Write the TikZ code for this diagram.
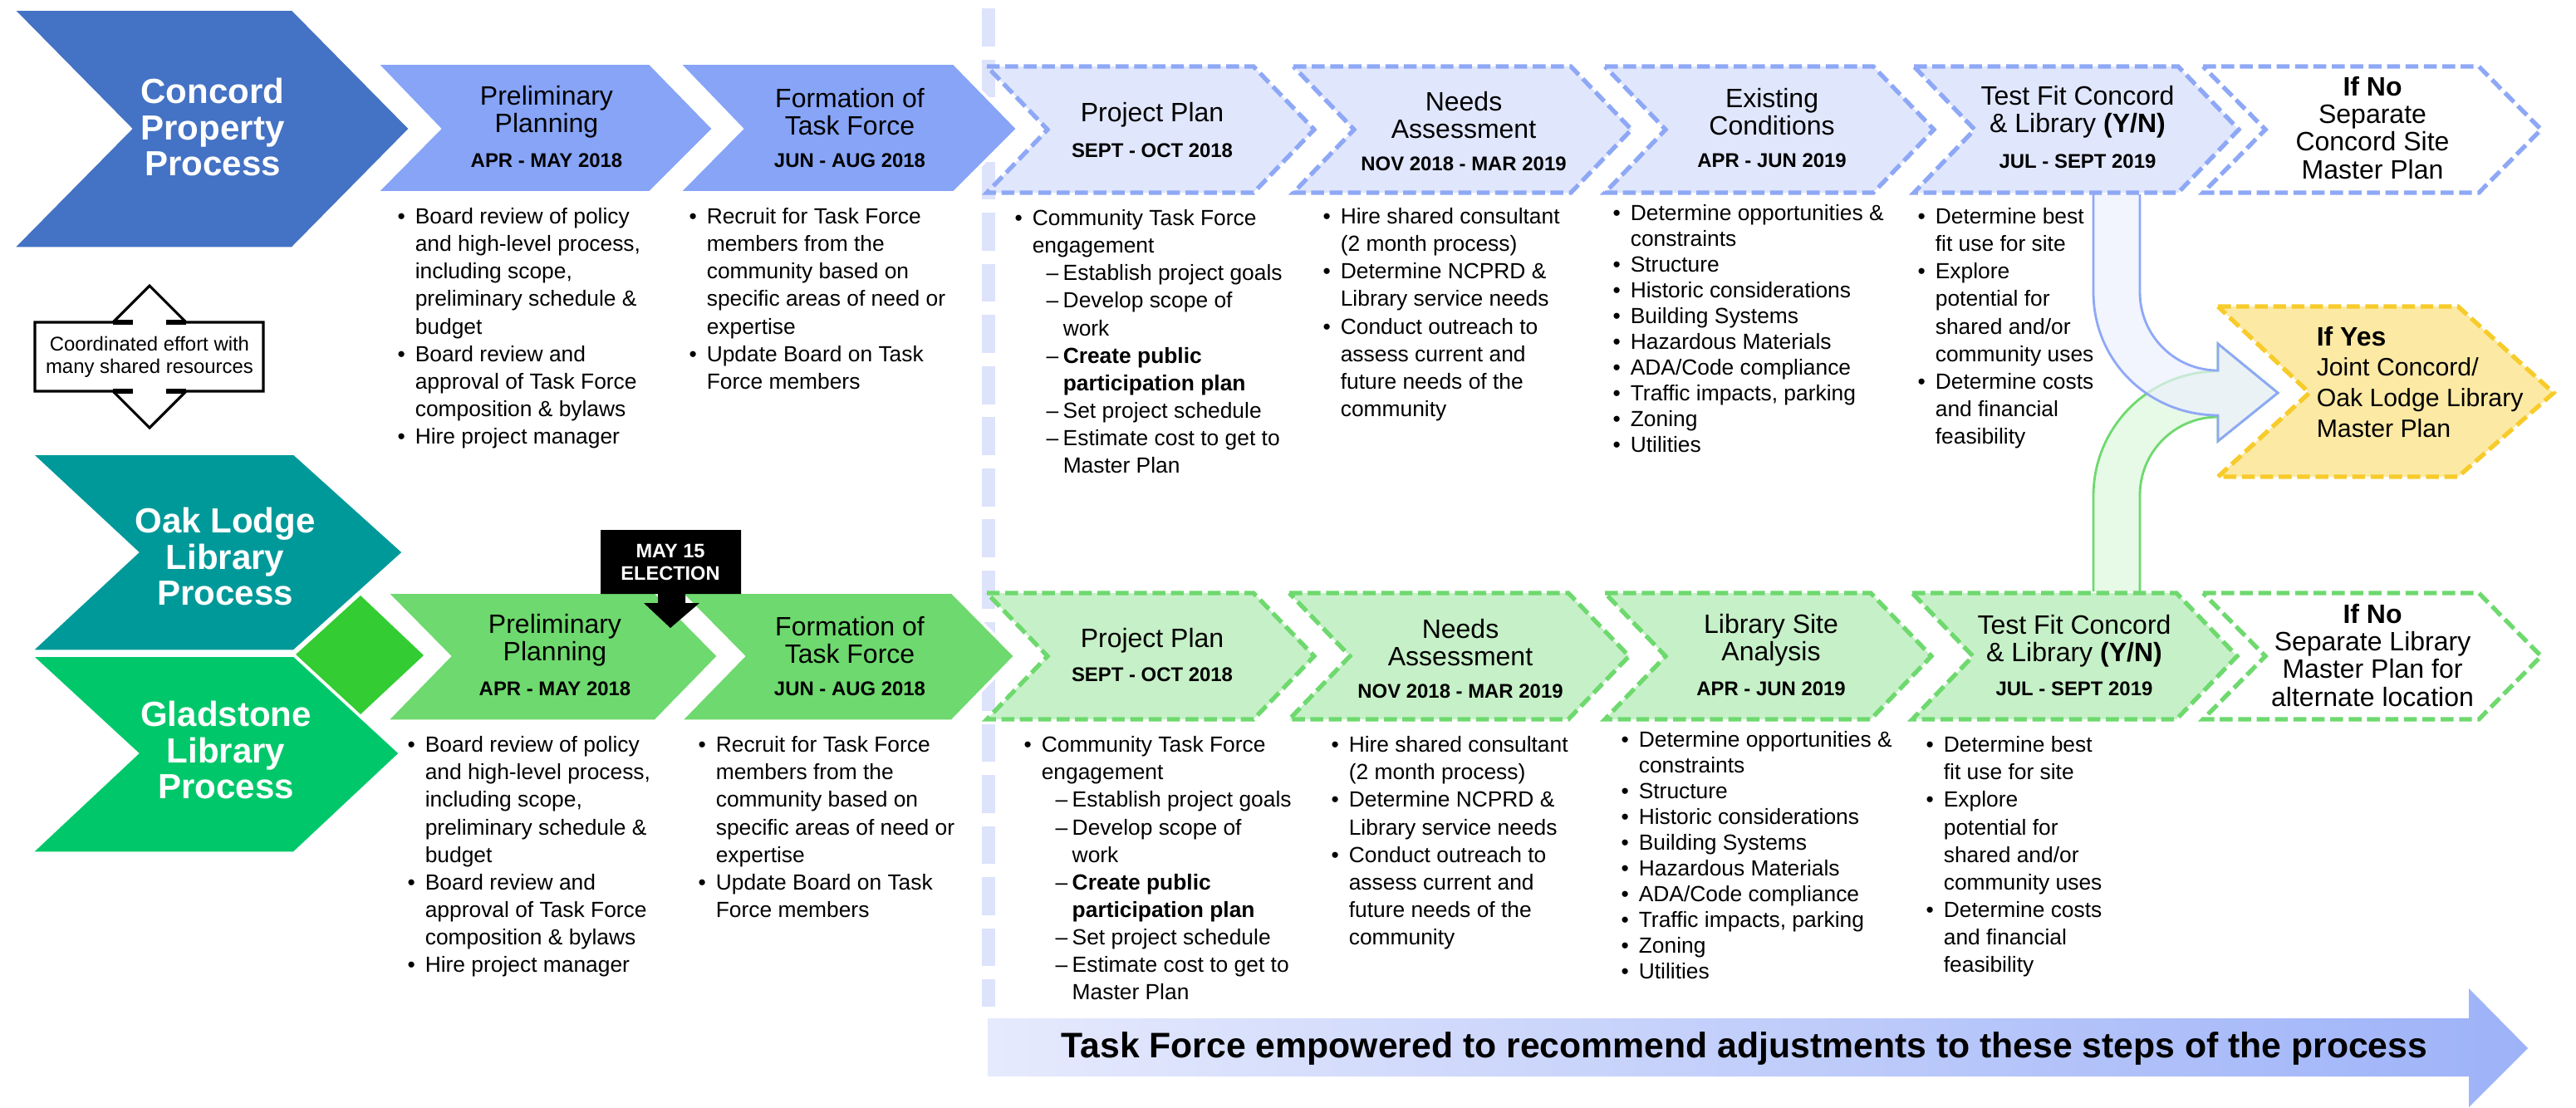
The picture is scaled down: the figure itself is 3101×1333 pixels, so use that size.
\documentclass[tikz,border=0pt]{standalone}
\usepackage{fontspec}
\setmainfont{Liberation Sans}
\usepackage{xcolor}
\usepackage{tikz}

\definecolor{concordblue}{HTML}{4472C4}
\definecolor{stepblue}{HTML}{87A4F7}
\definecolor{paleblue}{HTML}{E0E6FC}
\definecolor{dashblue}{HTML}{8EA8F6}
\definecolor{oakteal}{HTML}{009999}
\definecolor{gladgreen}{HTML}{00C86A}
\definecolor{diamondgreen}{HTML}{33CC33}
\definecolor{stepgreen}{HTML}{6ED96E}
\definecolor{palegreen}{HTML}{C6F0C7}
\definecolor{yesfill}{HTML}{FCE9A3}
\definecolor{yesline}{HTML}{F7CB2A}
\definecolor{sepline}{HTML}{DDE3FB}
\definecolor{bandlight}{HTML}{E6EAFD}
\definecolor{banddark}{HTML}{9DB2F8}

% bullet helpers
\newcommand{\bu}{\makebox[6pt][l]{\textbullet}}
\newcommand{\bx}{\hspace*{6pt}}
\newcommand{\sd}{\hspace*{10.8pt}\makebox[5.7pt][l]{\textendash}}
\newcommand{\sx}{\hspace*{16.5pt}}

\newcommand{\planlist}{\bu Board review of policy\\ \bx and high-level process,\\ \bx including scope,\\ \bx preliminary schedule \&\\ \bx budget\\ \bu Board review and\\ \bx approval of Task Force\\ \bx composition \& bylaws\\ \bu Hire project manager}
\newcommand{\forcelist}{\bu Recruit for Task Force\\ \bx members from the\\ \bx community based on\\ \bx specific areas of need or\\ \bx expertise\\ \bu Update Board on Task\\ \bx Force members}
\newcommand{\projlist}{\bu Community Task Force\\ \bx engagement\\ \sd Establish project goals\\ \sd Develop scope of\\ \sx work\\ \sd \textbf{Create public}\\ \sx \textbf{participation plan}\\ \sd Set project schedule\\ \sd Estimate cost to get to\\ \sx Master Plan}
\newcommand{\needslist}{\bu Hire shared consultant\\ \bx (2 month process)\\ \bu Determine NCPRD \&\\ \bx Library service needs\\ \bu Conduct outreach to\\ \bx assess current and\\ \bx future needs of the\\ \bx community}
\newcommand{\sitelist}{\bu Determine opportunities \&\\ \bx constraints\\ \bu Structure\\ \bu Historic considerations\\ \bu Building Systems\\ \bu Hazardous Materials\\ \bu ADA/Code compliance\\ \bu Traffic impacts, parking\\ \bu Zoning\\ \bu Utilities}
\newcommand{\fitlist}{\bu Determine best\\ \bx fit use for site\\ \bu Explore\\ \bx potential for\\ \bx shared and/or\\ \bx community uses\\ \bu Determine costs\\ \bx and financial\\ \bx feasibility}

\tikzset{
  gapline/.style={draw=white, line width=1pt},
  dashbox/.style={line width=1.5pt, dash pattern=on 4.4pt off 1.9pt},
  bigtext/.style={font=\fontsize{11.95}{12.5}\selectfont\bfseries, text=white, align=center, inner sep=0pt},
  titletext/.style={font=\fontsize{9.1}{9.4}\selectfont, align=center, inner sep=0pt},
  datetext/.style={font=\fontsize{6.8}{8}\selectfont\bfseries, inner sep=0pt},
  bullets/.style={font=\fontsize{7.5}{9.4}\selectfont, align=left, anchor=north west, inner sep=0pt},
  smalltext/.style={font=\fontsize{6.8}{7.7}\selectfont, align=center, inner sep=0pt},
}

\begin{document}
\begin{tikzpicture}[x=0.01cm, y=-0.01cm]
        \useasboundingbox (0,0) rectangle (3101,1333);

        % separator
        \draw[sepline, line width=4.3pt, dash pattern=on 13pt off 4.5pt] (1190,10) -- (1190,1212);

        % bottom arrow
        \shade[left color=bandlight, right color=banddark] (1189,1226) -- (2972,1226) -- (2972,1190) -- (3043,1262) -- (2972,1333) -- (2972,1296) -- (1189,1296) -- cycle;
        \node[font=\fontsize{12.15}{14}\selectfont\bfseries, inner sep=0pt] (empower) at (2100,1262) {Task Force empowered to recommend adjustments to these steps of the process};

        % merging arrows
        \coordinate (yesin) at (2742,473);
        \draw[stepgreen, line width=0.8pt, fill=palegreen!60, fill opacity=0.7] (2520,712) -- (2520,597) .. controls (2520,514) and (2587,447) .. (2670,447) -- (2670,414) -- (yesin) -- (2670,531) -- (2670,502) .. controls (2618,502) and (2576,544) .. (2576,596) -- (2576,712);
        \draw[dashblue, line width=0.8pt, fill=paleblue!60, fill opacity=0.7] (2520,234) -- (2520,352) .. controls (2520,435) and (2587,500) .. (2670,500) -- (2670,531) -- (yesin) -- (2670,414) -- (2670,446) .. controls (2618,446) and (2576,404) .. (2576,352) -- (2576,234);

        % process chevrons
        \fill[diamondgreen] (356,788) -- (434,717) -- (510,789) -- (434,860) -- cycle;
        \filldraw[fill=concordblue, gapline] (15,11) -- (352,11) -- (494,155) -- (352,299) -- (15,299) -- (157,155) -- cycle;
        \filldraw[fill=oakteal, gapline] (37,546) -- (354,546) -- (486,665) -- (354,784) -- (37,784) -- (165,665) -- cycle;
        \filldraw[fill=gladgreen, gapline] (37,789) -- (354,789) -- (482,907) -- (354,1027) -- (37,1027) -- (165,907) -- cycle;

        \node[bigtext] (concord) at (256,153) {Concord\\Property\\Process};
        \node[bigtext] (oak) at (271,670) {Oak Lodge\\Library\\Process};
        \node[bigtext] (glad) at (272,903) {Gladstone\\Library\\Process};

        % first steps
        \foreach \l/\r in {453/859, 817/1225}
            \filldraw[fill=stepblue, gapline] (\l,76) -- ({\r-77},76) -- (\r,155) -- ({\r-77},232) -- (\l,232) -- ({\l+76},155) -- cycle;
        \foreach \l/\r in {465/865, 819/1222}
            \filldraw[fill=stepgreen, gapline] (\l,713) -- ({\r-76},713) -- (\r,790) -- ({\r-76},868) -- (\l,868) -- ({\l+76},790) -- cycle;

        % dashed steps
        \foreach \l/\r in {1188/1582, 1557/1964, 1932/2328, 2304/2695}
            \draw[dashblue, dashbox, fill=paleblue] (\l,80) -- ({\r-73},80) -- (\r,156) -- ({\r-73},232) -- (\l,232) -- ({\l+73},156) -- cycle;
        \foreach \l/\r in {1188/1582, 1552/1961, 1932/2325, 2302/2693}
            \draw[stepgreen, dashbox, fill=palegreen] (\l,714) -- ({\r-73},714) -- (\r,790) -- ({\r-73},866) -- (\l,866) -- ({\l+73},790) -- cycle;
        \draw[dashblue, dashbox, fill=white] (2652,80) -- (2984,80) -- (3059,156) -- (2984,232) -- (2652,232) -- (2727,156) -- cycle;
        \draw[stepgreen, dashbox, fill=white] (2652,714) -- (2984,714) -- (3059,790) -- (2984,866) -- (2652,866) -- (2727,790) -- cycle;
        \draw[yesline, dashbox, fill=yesfill] (2670,369) -- (2959,369) -- (3074,473) -- (2959,574) -- (2670,574) -- (2780,473) -- cycle;

        % step titles
        \node[titletext] (prelimA) at (658,135) {Preliminary\\Planning};
        \node[datetext] (prelimAdate) at (658,193) {APR - MAY 2018};
        \node[titletext] (forceA) at (1023,135) {Formation of\\Task Force};
        \node[datetext] (forceAdate) at (1023,193) {JUN - AUG 2018};
        \node[titletext] (projA) at (1387,138) {Project Plan};
        \node[datetext] (projAdate) at (1387,181) {SEPT - OCT 2018};
        \node[titletext] (needsA) at (1762,139) {Needs\\Assessment};
        \node[datetext] (needsAdate) at (1762,197) {NOV 2018 - MAR 2019};
        \node[titletext] (existA) at (2133,135) {Existing\\Conditions};
        \node[datetext] (existAdate) at (2133,193) {APR - JUN 2019};
        \node[titletext] (fitA) at (2501,135) {Test Fit Concord\\\& Library \textbf{(Y/N)}};
        \node[datetext] (fitAdate) at (2501,194) {JUL - SEPT 2019};
        \node[titletext] (noA) at (2856,154) {\textbf{If No}\\Separate\\Concord Site\\Master Plan};

        \node[titletext] (prelimB) at (668,771) {Preliminary\\Planning};
        \node[datetext] (prelimBdate) at (668,829) {APR - MAY 2018};
        \node[titletext] (forceB) at (1023,771) {Formation of\\Task Force};
        \node[datetext] (forceBdate) at (1023,829) {JUN - AUG 2018};
        \node[titletext] (projB) at (1387,771) {Project Plan};
        \node[datetext] (projBdate) at (1387,812) {SEPT - OCT 2018};
        \node[titletext] (needsB) at (1758,774) {Needs\\Assessment};
        \node[datetext] (needsBdate) at (1758,832) {NOV 2018 - MAR 2019};
        \node[titletext] (siteB) at (2132,771) {Library Site\\Analysis};
        \node[datetext] (siteBdate) at (2132,829) {APR - JUN 2019};
        \node[titletext] (fitB) at (2497,772) {Test Fit Concord\\\& Library \textbf{(Y/N)}};
        \node[datetext] (fitBdate) at (2497,829) {JUL - SEPT 2019};
        \node[titletext] (noB) at (2856,789) {\textbf{If No}\\Separate Library\\Master Plan for\\alternate location};

        \node[titletext, align=left, anchor=west, font=\fontsize{8.6}{10.5}\selectfont] (yes) at (2788,460) {{\fontsize{9.1}{10.5}\selectfont\textbf{If Yes}}\\Joint Concord/\\Oak Lodge Library\\Master Plan};

        % step details
        \node[bullets] (planAlist) at (478,250) {\planlist};
        \node[bullets] (forceAlist) at (829,250) {\forcelist};
        \node[bullets] (projAlist) at (1221,252) {\projlist};
        \node[bullets] (needsAlist) at (1592,250) {\needslist};
        \node[bullets, font=\fontsize{7.5}{8.8}\selectfont] (existAlist) at (1941,246) {\sitelist};
        \node[bullets] (fitAlist) at (2308,250) {\fitlist};

        \node[bullets] (planBlist) at (490,886) {\planlist};
        \node[bullets] (forceBlist) at (840,886) {\forcelist};
        \node[bullets] (projBlist) at (1232,886) {\projlist};
        \node[bullets] (needsBlist) at (1602,886) {\needslist};
        \node[bullets, font=\fontsize{7.5}{8.8}\selectfont] (siteBlist) at (1951,880) {\sitelist};
        \node[bullets] (fitBlist) at (2318,886) {\fitlist};

        % election callout
        \fill[black] (723,638) -- (892,638) -- (892,715) -- (825,715) -- (825,726) -- (842,726) -- (807,756) -- (775,726) -- (792,726) -- (792,715) -- (723,715) -- cycle;
        \node[smalltext, text=white, font=\fontsize{6.7}{7.7}\selectfont\bfseries] (election) at (807,677) {MAY 15\\ELECTION};

        % shared effort callout
        \draw[line width=0.9pt, fill=white] (42,388) -- (136,388) -- (180,344) -- (224,388) -- (317,388) -- (317,471) -- (224,471) -- (180,515) -- (136,471) -- (42,471) -- cycle;
        \draw[line width=1.8pt] (136,388) -- (160,388) (200,388) -- (224,388) (136,471) -- (160,471) (200,471) -- (224,471);
        \node[smalltext] (shared) at (180,430) {Coordinated effort with\\many shared resources};

    \end{tikzpicture}
\end{document}
